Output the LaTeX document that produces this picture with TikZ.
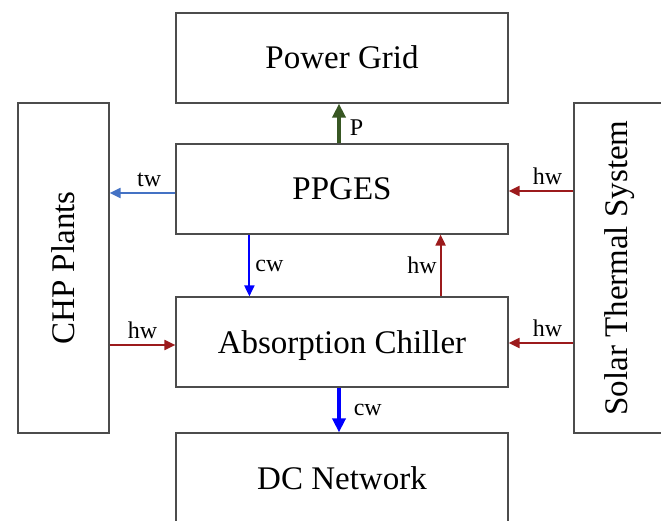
\documentclass[tikz,border=0pt]{standalone}
\usepackage{fontspec}
\setmainfont{Liberation Serif}
\usetikzlibrary{arrows.meta}

\definecolor{pgreen}{RGB}{56,87,35}
\definecolor{twblue}{RGB}{68,114,196}
\definecolor{cwblue}{RGB}{0,0,255}
\definecolor{hwred}{RGB}{156,26,28}

\tikzset{
  unit/.style={draw=black!70, line width=1.2pt, minimum width=332pt,
    minimum height=90pt, inner sep=0pt, font=\fontsize{33}{40}\selectfont},
  box/.style={unit, text height=22pt, text depth=0pt},
  side/.style={unit, minimum width=91pt, minimum height=330pt},
  flow/.style={line width=2pt, -{Triangle[length=11pt,width=10pt]}},
  bigflow/.style={line width=3.5pt, -{Triangle[length=14pt,width=13pt]}},
  lbl/.style={font=\fontsize{24}{28}\selectfont, text=black, inner sep=3pt}
}

\begin{document}
\begin{tikzpicture}[x=1pt, y=1pt]
  \useasboundingbox (0, 0) rectangle (661, 520);
  % units
  \node[box] (grid) at (342, 462) {Power Grid};
  \node[box] (ppges) at (342, 331) {PPGES};
  \node[box] (chiller) at (342, 178) {Absorption Chiller};
  \node[box] (dc) at (342, 42) {DC Network};
  \node[side] (chp) at (63.5, 252) {\rotatebox{90}{CHP Plants}};
  \node[side] (solar) at (619.5, 252) {\rotatebox{90}{Solar Thermal System}};
  % power and water flows
  \draw[bigflow, pgreen] ([xshift=-3pt]ppges.north) -- ([xshift=-3pt]grid.south)
    node[lbl, pos=0.4, right, xshift=6pt] {P};
  \draw[flow, twblue] ([yshift=-4pt]ppges.west) -- ([yshift=-4pt]ppges.west -| chp.east)
    node[lbl, pos=0.4, above, yshift=2pt] {tw};
  \draw[flow, cwblue] ([xshift=74pt]ppges.south west) -- ([xshift=74pt]chiller.north west)
    node[lbl, midway, right, xshift=2pt] {cw};
  \draw[flow, hwred] ([xshift=-68pt]chiller.north east) -- ([xshift=-68pt]ppges.south east)
    node[lbl, midway, left] {hw};
  \draw[flow, hwred] ([yshift=-3pt]chiller.west -| chp.east) -- ([yshift=-3pt]chiller.west)
    node[lbl, midway, above, yshift=2pt] {hw};
  \draw[flow, hwred] ([yshift=-2pt]ppges.east -| solar.west) -- ([yshift=-2pt]ppges.east)
    node[lbl, pos=0.4, above, yshift=2pt] {hw};
  \draw[flow, hwred] ([yshift=-1pt]chiller.east -| solar.west) -- ([yshift=-1pt]chiller.east)
    node[lbl, pos=0.4, above, yshift=2pt] {hw};
  \draw[bigflow, cwblue] ([xshift=-3pt]chiller.south) -- ([xshift=-3pt]dc.north)
    node[lbl, midway, right, xshift=10pt] {cw};
\end{tikzpicture}
\end{document}
